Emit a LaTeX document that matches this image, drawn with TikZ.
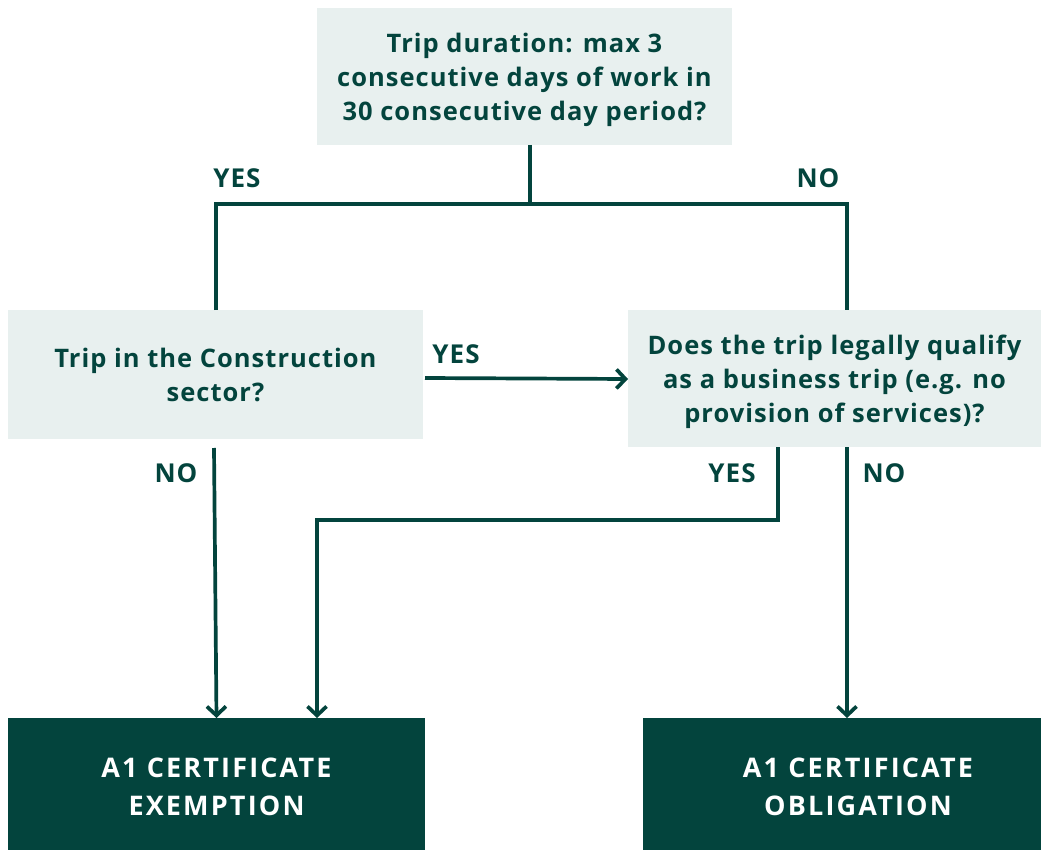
\documentclass[tikz,border=0pt]{standalone}
\usepackage{fontspec}
\setmainfont{Open Sans}
\newfontfamily\qfont[LetterSpace=4]{Open Sans}
\newfontfamily\rfont[LetterSpace=8]{Open Sans}
\usetikzlibrary{arrows.meta}
\definecolor{dk}{HTML}{03443D}
\definecolor{lt}{HTML}{E8F0EF}
\begin{document}
\begin{tikzpicture}[x=1pt,y=-1pt,
  qbox/.style={fill=lt, draw=none, inner sep=0pt, outer sep=0pt, align=center,
    text=dk, font=\qfont\bfseries\fontsize{25.5}{34}\selectfont},
  rbox/.style={fill=dk, draw=none, inner sep=0pt, outer sep=0pt},
  rtext/.style={text=white, align=center, inner sep=0pt,
    font=\rfont\bfseries\fontsize{27}{38}\selectfont},
  lbl/.style={text=dk, font=\qfont\bfseries\fontsize{26}{28}\selectfont, inner sep=0pt},
  ln/.style={draw=dk, line width=3.7pt},
  arr/.style={ln, -{Straight Barb[length=9pt,width=19pt]}}]
\useasboundingbox[fill=white] (0,0) rectangle (1041,850);
\node[qbox, minimum width=415pt, minimum height=137pt] (q1) at (524.5,76.5)
  {\raisebox{-3pt}[\height][\depth]{\begin{tabular}{@{}c@{}}Trip duration: max 3\\consecutive days of work in\\30 consecutive day period?\end{tabular}}};
\node[qbox, minimum width=415pt, minimum height=129pt] (q2) at (215.5,374.5)
  {Trip in the Construction\\sector?};
\node[qbox, minimum width=413pt, minimum height=137pt] (q3) at (834.5,378.5)
  {\raisebox{-3pt}[\height][\depth]{\begin{tabular}{@{}c@{}}Does the trip legally qualify\\as a business trip (e.g. no\\provision of services)?\end{tabular}}};
\node[rbox, minimum width=417pt, minimum height=132pt,
  label={[rtext, yshift=-3pt]center:A1 CERTIFICATE\\EXEMPTION}] (r1) at (216.5,784) {};
\node[rbox, minimum width=398pt, minimum height=132pt,
  label={[rtext, xshift=16pt, yshift=-3pt]center:A1 CERTIFICATE\\OBLIGATION}] (r2) at (842,784) {};
% connectors
\draw[ln] ([xshift=5.5pt]q1.south) -- ++(0,59) coordinate (j);
\draw[ln] ([xshift=0.5pt]q2.north) |- (j) -| ([xshift=12.5pt]q3.north);
\draw[arr] ([xshift=2pt,yshift=-3.5pt]q2.east) -- ([yshift=-0.5pt]q3.west);
\draw[arr] ([xshift=-1.5pt,yshift=-9pt]q2.south) -- (r1.north);
\draw[arr] ([xshift=-56.5pt]q3.south) -- ++(0,73) -| ([xshift=100.5pt]r1.north);
\draw[arr] ([xshift=12.5pt]q3.south) -- ([xshift=5pt]r2.north);
% labels
\node[lbl] (lyes1) at (237,178) {YES};
\node[lbl] (lno1) at (818,178) {NO};
\node[lbl] (lyes2) at (456,354) {YES};
\node[lbl] (lno2) at (176,473) {NO};
\node[lbl] (lyes3) at (732,473) {YES};
\node[lbl] (lno3) at (884,473) {NO};
\end{tikzpicture}
\end{document}
